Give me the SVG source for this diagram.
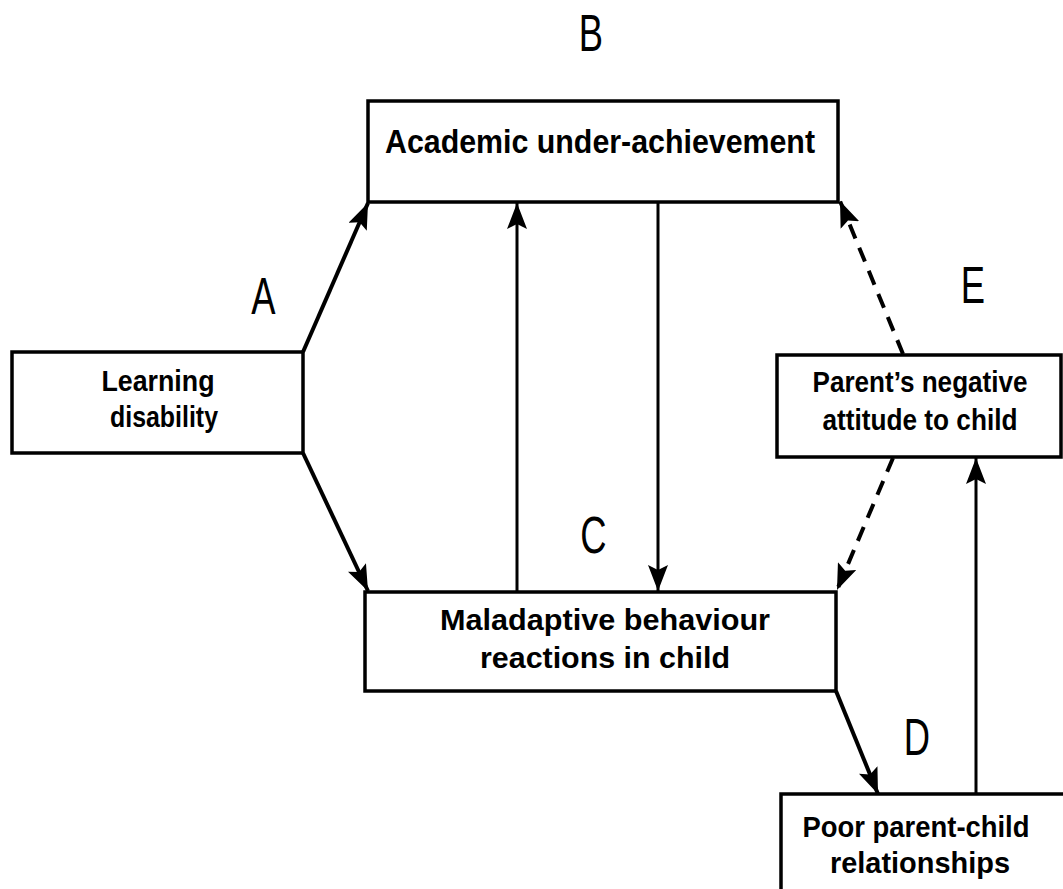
<svg xmlns="http://www.w3.org/2000/svg" width="1063" height="889" viewBox="0 0 1063 889">
<style>
.box{fill:#fff;stroke:#000;stroke-width:3.5}
.lbl{font-family:"Liberation Sans",Arial,sans-serif;font-weight:bold;font-size:30px;fill:#000;text-anchor:middle}
.big{font-size:33px}
.let{font-family:"Liberation Sans",Arial,sans-serif;font-size:52px;fill:#000;text-anchor:middle}
.thick{stroke:#000;stroke-width:4;fill:none}
.thin{stroke:#000;stroke-width:3;fill:none}
.dash{stroke:#000;stroke-width:4;fill:none;stroke-dasharray:15 10}
</style>
<defs>
<marker id="ah" markerUnits="userSpaceOnUse" markerWidth="28" markerHeight="20" refX="26" refY="10" orient="auto">
<path d="M0,0 L26,10 L0,20 L5,10 Z" fill="#000"/>
</marker>
</defs>
<rect width="1063" height="889" fill="#fff"/>
<g id="connectors">
<line class="thick" x1="303" y1="352" x2="368" y2="203" marker-end="url(#ah)"/>
<line class="thick" x1="303" y1="453" x2="368" y2="591" marker-end="url(#ah)"/>
<line class="thin" x1="517" y1="592" x2="517" y2="203" marker-end="url(#ah)"/>
<line class="thin" x1="658" y1="202" x2="658" y2="591" marker-end="url(#ah)"/>
<line class="dash" x1="903" y1="354" x2="840" y2="201" marker-end="url(#ah)"/>
<line class="dash" x1="893" y1="458" x2="837" y2="590" marker-end="url(#ah)"/>
<line class="thick" x1="836" y1="691" x2="878" y2="794" marker-end="url(#ah)"/>
<line class="thin" x1="976" y1="794" x2="976" y2="458" marker-end="url(#ah)"/>
</g>
<g id="node-academic">
<rect class="box" x="368" y="101" width="470" height="101"/>
<text class="lbl big" x="600" y="153" textLength="430" lengthAdjust="spacingAndGlyphs">Academic under-achievement</text>
</g>
<g id="node-learning">
<rect class="box" x="12" y="352" width="291" height="101"/>
<text class="lbl" x="158" y="391" textLength="113" lengthAdjust="spacingAndGlyphs">Learning</text>
<text class="lbl" x="164" y="427" textLength="108" lengthAdjust="spacingAndGlyphs">disability</text>
</g>
<g id="node-parent">
<rect class="box" x="777" y="355" width="284" height="102"/>
<text class="lbl" x="920" y="392" textLength="215" lengthAdjust="spacingAndGlyphs">Parent’s negative</text>
<text class="lbl" x="920" y="430" textLength="195" lengthAdjust="spacingAndGlyphs">attitude to child</text>
</g>
<g id="node-maladaptive">
<rect class="box" x="365" y="592" width="471" height="99"/>
<text class="lbl" x="605" y="630" textLength="330" lengthAdjust="spacingAndGlyphs">Maladaptive behaviour</text>
<text class="lbl" x="605" y="668" textLength="250" lengthAdjust="spacingAndGlyphs">reactions in child</text>
</g>
<g id="node-poor">
<rect class="box" x="781" y="794" width="320" height="120"/>
<text class="lbl" x="916" y="837" textLength="227" lengthAdjust="spacingAndGlyphs">Poor parent-child</text>
<text class="lbl" x="920" y="873" textLength="180" lengthAdjust="spacingAndGlyphs">relationships</text>
</g>
<g id="labels">
<text class="let" transform="translate(591,51) scale(0.7,1)">B</text>
<text class="let" transform="translate(263.5,314) scale(0.7,1)">A</text>
<text class="let" transform="translate(973,303) scale(0.7,1)">E</text>
<text class="let" transform="translate(593.5,553) scale(0.7,1)">C</text>
<text class="let" transform="translate(917,755) scale(0.7,1)">D</text>
</g>
</svg>
